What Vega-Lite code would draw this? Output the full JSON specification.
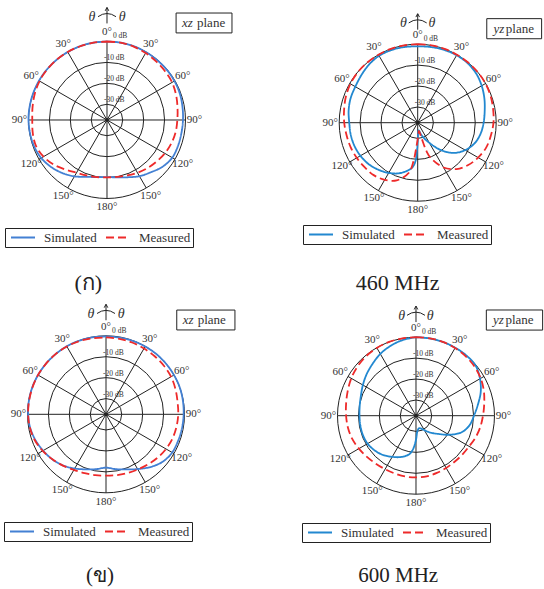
{
"$schema": "https://vega.github.io/schema/vega-lite/v6.json",
"padding": 0,
"spacing": 0,
"config": {"view": {"stroke": null}, "font": "Liberation Serif", "text": {"font": "Liberation Serif"},
 "legend": {"strokeColor": "#222", "fillColor": "white", "padding": 2, "symbolType": "stroke", "symbolSize": 576, "clipHeight": 15, "symbolStrokeWidth": 1.8, "symbolOffset": 3, "labelFont": "Liberation Serif", "labelFontSize": 13, "labelColor": "#333", "labelOffset": 8, "columnPadding": 5}},
"datasets": {
 "rings": [{"db": 0}, {"db": -10}, {"db": -20}, {"db": -30}],
 "spokes": [{"a": 0}, {"a": 30}, {"a": 60}, {"a": 90}, {"a": 120}, {"a": 150}, {"a": 180}, {"a": 210}, {"a": 240}, {"a": 270}, {"a": 300}, {"a": 330}],
 "deg": [{"a": 0, "t": "0°"}, {"a": 30, "t": "30°"}, {"a": 60, "t": "60°"}, {"a": 90, "t": "90°"}, {"a": 120, "t": "120°"}, {"a": 150, "t": "150°"}, {"a": 180, "t": "180°"}, {"a": 210, "t": "150°"}, {"a": 240, "t": "120°"}, {"a": 270, "t": "90°"}, {"a": 300, "t": "60°"}, {"a": 330, "t": "30°"}],
 "dbl": [{"db": 0, "t": "0 dB"}, {"db": -10, "t": "-10 dB"}, {"db": -20, "t": "-20 dB"}, {"db": -30, "t": "-30 dB"}],
 "theta": [{"t": "θ", "side": -1}, {"t": "θ", "side": 1}],
 "tl": [
  {"a": 0, "Simulated": 0, "Measured": 0}, {"a": 10, "Simulated": 0, "Measured": 0}, {"a": 20, "Simulated": 0, "Measured": -0.2},
  {"a": 30, "Simulated": -0.1, "Measured": -0.6}, {"a": 40, "Simulated": -0.2, "Measured": -1.0}, {"a": 50, "Simulated": -0.2, "Measured": -1.3},
  {"a": 60, "Simulated": -0.3, "Measured": -1.6}, {"a": 70, "Simulated": -0.5, "Measured": -2.4}, {"a": 80, "Simulated": -0.9, "Measured": -3.3},
  {"a": 90, "Simulated": -1.2, "Measured": -3.9}, {"a": 100, "Simulated": -1.4, "Measured": -4.2}, {"a": 110, "Simulated": -1.4, "Measured": -4.8},
  {"a": 120, "Simulated": -1.5, "Measured": -5.6}, {"a": 130, "Simulated": -2.8, "Measured": -6.6}, {"a": 140, "Simulated": -4.9, "Measured": -7.5},
  {"a": 150, "Simulated": -6.5, "Measured": -8.4}, {"a": 160, "Simulated": -8.4, "Measured": -9.3}, {"a": 170, "Simulated": -9.7, "Measured": -9.9},
  {"a": 180, "Simulated": -10.2, "Measured": -10.1}, {"a": 190, "Simulated": -9.8, "Measured": -9.8}, {"a": 200, "Simulated": -8.6, "Measured": -9.3},
  {"a": 210, "Simulated": -6.4, "Measured": -8.4}, {"a": 220, "Simulated": -4.4, "Measured": -6.6}, {"a": 230, "Simulated": -2.6, "Measured": -4.3},
  {"a": 240, "Simulated": -1.2, "Measured": -2.5}, {"a": 250, "Simulated": -0.5, "Measured": -1.4}, {"a": 260, "Simulated": -0.2, "Measured": -1.5},
  {"a": 270, "Simulated": 0, "Measured": -1.8}, {"a": 280, "Simulated": 0, "Measured": -1.4}, {"a": 290, "Simulated": 0, "Measured": -0.8},
  {"a": 300, "Simulated": 0, "Measured": -0.3}, {"a": 310, "Simulated": 0, "Measured": -0.1}, {"a": 320, "Simulated": 0, "Measured": 0},
  {"a": 330, "Simulated": 0, "Measured": 0}, {"a": 340, "Simulated": 0, "Measured": 0}, {"a": 350, "Simulated": 0, "Measured": 0},
  {"a": 360, "Simulated": 0, "Measured": 0}],
 "tr": [
  {"a": 0, "Simulated": -1.0, "Measured": 0}, {"a": 10, "Simulated": -0.8, "Measured": 0}, {"a": 20, "Simulated": -0.5, "Measured": 0},
  {"a": 30, "Simulated": -0.3, "Measured": 0}, {"a": 40, "Simulated": -0.4, "Measured": 0}, {"a": 50, "Simulated": -1.0, "Measured": 0},
  {"a": 60, "Simulated": -2.2, "Measured": -0.1}, {"a": 70, "Simulated": -3.6, "Measured": -0.4}, {"a": 80, "Simulated": -5.0, "Measured": -0.9},
  {"a": 90, "Simulated": -6.0, "Measured": -1.3}, {"a": 100, "Simulated": -7.0, "Measured": -2.0}, {"a": 110, "Simulated": -8.6, "Measured": -2.7},
  {"a": 120, "Simulated": -11.3, "Measured": -4.2}, {"a": 130, "Simulated": -15.0, "Measured": -6.0}, {"a": 140, "Simulated": -20.5, "Measured": -8.6},
  {"a": 150, "Simulated": -26.4, "Measured": -12.8}, {"a": 160, "Simulated": -30.3, "Measured": -19.8}, {"a": 163, "Measured": -23.5},
  {"a": 166, "Simulated": -32.3, "Measured": -30.0}, {"a": 172, "Simulated": -33.8, "Measured": -33.5}, {"a": 176, "Simulated": -33.5},
  {"a": 178, "Measured": -31.0}, {"a": 179, "Simulated": -30.5}, {"a": 181, "Simulated": -25.5},
  {"a": 183, "Simulated": -19.5, "Measured": -26.0}, {"a": 186, "Simulated": -16.5, "Measured": -19.5}, {"a": 190, "Simulated": -14.7, "Measured": -13.2},
  {"a": 200, "Simulated": -11.8, "Measured": -8.2}, {"a": 210, "Simulated": -9.8, "Measured": -6.0}, {"a": 220, "Simulated": -8.2, "Measured": -4.8},
  {"a": 230, "Simulated": -6.8, "Measured": -4.4}, {"a": 240, "Simulated": -5.9, "Measured": -3.9}, {"a": 250, "Simulated": -5.3, "Measured": -3.4},
  {"a": 260, "Simulated": -5.0, "Measured": -3.0}, {"a": 270, "Simulated": -4.8, "Measured": -2.4}, {"a": 280, "Simulated": -4.0, "Measured": -1.8},
  {"a": 290, "Simulated": -3.4, "Measured": -1.0}, {"a": 300, "Simulated": -3.1, "Measured": -0.4}, {"a": 310, "Simulated": -2.3, "Measured": -0.1},
  {"a": 320, "Simulated": -1.3, "Measured": 0}, {"a": 330, "Simulated": -0.6, "Measured": 0}, {"a": 340, "Simulated": -0.6, "Measured": 0},
  {"a": 350, "Simulated": -0.8, "Measured": 0}, {"a": 360, "Simulated": -1.0, "Measured": 0}],
 "bl": [
  {"a": 0, "Simulated": -0.3, "Measured": -0.8}, {"a": 10, "Simulated": -0.3, "Measured": -0.9}, {"a": 20, "Simulated": -0.2, "Measured": -1.0},
  {"a": 30, "Simulated": -0.1, "Measured": -1.2}, {"a": 40, "Simulated": 0, "Measured": -1.3}, {"a": 50, "Simulated": 0, "Measured": -1.4},
  {"a": 60, "Simulated": 0, "Measured": -1.6}, {"a": 70, "Simulated": 0, "Measured": -2.2}, {"a": 80, "Simulated": -0.2, "Measured": -2.8},
  {"a": 90, "Simulated": -0.4, "Measured": -3.0}, {"a": 100, "Simulated": -0.6, "Measured": -3.3}, {"a": 110, "Simulated": -0.8, "Measured": -3.7},
  {"a": 120, "Simulated": -1.0, "Measured": -4.4}, {"a": 130, "Simulated": -2.2, "Measured": -5.3}, {"a": 140, "Simulated": -4.6, "Measured": -6.3},
  {"a": 150, "Simulated": -7.3, "Measured": -7.1}, {"a": 160, "Simulated": -9.5, "Measured": -7.6}, {"a": 170, "Simulated": -10.9, "Measured": -8.0},
  {"a": 180, "Simulated": -12.0, "Measured": -8.2}, {"a": 190, "Simulated": -10.9, "Measured": -8.0}, {"a": 200, "Simulated": -9.5, "Measured": -7.6},
  {"a": 210, "Simulated": -7.6, "Measured": -6.8}, {"a": 220, "Simulated": -5.6, "Measured": -5.5}, {"a": 230, "Simulated": -4.0, "Measured": -4.1},
  {"a": 240, "Simulated": -2.8, "Measured": -2.6}, {"a": 250, "Simulated": -1.6, "Measured": -1.3}, {"a": 260, "Simulated": -0.7, "Measured": -0.6},
  {"a": 270, "Simulated": -0.3, "Measured": -0.3}, {"a": 280, "Simulated": -0.1, "Measured": -0.2}, {"a": 290, "Simulated": 0, "Measured": -0.1},
  {"a": 300, "Simulated": 0, "Measured": 0}, {"a": 310, "Simulated": 0, "Measured": 0}, {"a": 320, "Simulated": 0, "Measured": 0},
  {"a": 330, "Simulated": 0, "Measured": -0.1}, {"a": 340, "Simulated": -0.1, "Measured": -0.3}, {"a": 350, "Simulated": -0.2, "Measured": -0.6},
  {"a": 360, "Simulated": -0.3, "Measured": -0.8}],
 "br": [
  {"a": 0, "Simulated": 0, "Measured": 0}, {"a": 10, "Simulated": 0, "Measured": 0}, {"a": 20, "Simulated": 0, "Measured": 0},
  {"a": 30, "Simulated": 0, "Measured": -0.2}, {"a": 40, "Simulated": 0, "Measured": -0.5}, {"a": 50, "Simulated": -0.3, "Measured": -1.0},
  {"a": 60, "Simulated": -2.2, "Measured": -1.8}, {"a": 70, "Simulated": -4.6, "Measured": -3.0}, {"a": 80, "Simulated": -7.5, "Measured": -4.4},
  {"a": 90, "Simulated": -9.8, "Measured": -5.5}, {"a": 100, "Simulated": -11.5, "Measured": -6.3}, {"a": 110, "Simulated": -14.3, "Measured": -7.2},
  {"a": 120, "Simulated": -19.3, "Measured": -8.2}, {"a": 130, "Simulated": -24.0, "Measured": -8.6}, {"a": 140, "Simulated": -27.0, "Measured": -8.8},
  {"a": 150, "Simulated": -29.5, "Measured": -8.7}, {"a": 160, "Simulated": -31.0, "Measured": -8.4}, {"a": 167, "Simulated": -31.3},
  {"a": 170, "Measured": -8.1}, {"a": 175, "Simulated": -30.0}, {"a": 180, "Simulated": -26.0, "Measured": -8.0},
  {"a": 185, "Simulated": -21.5}, {"a": 190, "Simulated": -18.8, "Measured": -8.0}, {"a": 200, "Simulated": -16.5, "Measured": -8.1},
  {"a": 210, "Simulated": -14.8, "Measured": -8.0}, {"a": 220, "Simulated": -13.0, "Measured": -7.6}, {"a": 230, "Simulated": -11.7, "Measured": -6.9},
  {"a": 240, "Simulated": -10.8, "Measured": -6.0}, {"a": 250, "Simulated": -10.5, "Measured": -5.1}, {"a": 260, "Simulated": -10.5, "Measured": -4.5},
  {"a": 270, "Simulated": -10.5, "Measured": -4.1}, {"a": 280, "Simulated": -10.2, "Measured": -3.6}, {"a": 290, "Simulated": -9.5, "Measured": -2.8},
  {"a": 300, "Simulated": -8.2, "Measured": -1.8}, {"a": 310, "Simulated": -6.7, "Measured": -1.0}, {"a": 320, "Simulated": -5.2, "Measured": -0.4},
  {"a": 330, "Simulated": -3.4, "Measured": -0.1}, {"a": 340, "Simulated": -2.0, "Measured": 0}, {"a": 350, "Simulated": -0.8, "Measured": 0},
  {"a": 360, "Simulated": 0, "Measured": 0}]
},
"resolve": {"scale": {"color": "independent", "strokeDash": "independent"}, "legend": {"color": "independent", "strokeDash": "independent"}},
"vconcat": [
 {"hconcat": [
  {"width": 272, "height": 295,
   "encoding": {"x": {"field": "x", "type": "quantitative", "axis": null, "scale": {"domain": [-51.11, 78.82], "nice": false, "zero": false}},
                "y": {"field": "y", "type": "quantitative", "axis": null, "scale": {"domain": [-83.6, 57.32], "nice": false, "zero": false}}},
   "layer": [
    {"data": {"name": "rings"}, "transform": [{"calculate": "datum.db + 37.5", "as": "r"}, {"calculate": "0", "as": "x"}, {"calculate": "0", "as": "y"}],
     "mark": {"type": "point", "shape": "circle", "filled": false, "stroke": "#222", "strokeWidth": 1, "opacity": 1},
     "encoding": {"size": {"field": "r", "type": "quantitative", "legend": null, "scale": {"type": "pow", "exponent": 2, "domain": [0, 37.5], "range": [0, 24649], "zero": true, "nice": false}}}},
    {"data": {"name": "spokes"}, "transform": [{"calculate": "37.5*sin(datum.a*PI/180)", "as": "x2"}, {"calculate": "37.5*cos(datum.a*PI/180)", "as": "y2"}, {"calculate": "0", "as": "x"}, {"calculate": "0", "as": "y"}],
     "mark": {"type": "rule", "stroke": "#222", "strokeWidth": 1}, "encoding": {"x2": {"field": "x2"}, "y2": {"field": "y2"}}},
    {"data": {"values": [{"p": 0}]}, "transform": [{"calculate": "0", "as": "x"}, {"calculate": "0", "as": "y"}],
     "mark": {"type": "point", "filled": true, "color": "#222", "size": 14, "opacity": 1}},
    {"data": {"name": "deg"}, "transform": [{"calculate": "41.8*sin(datum.a*PI/180)", "as": "x"}, {"calculate": "41.8*cos(datum.a*PI/180)", "as": "y"}],
     "mark": {"type": "text", "font": "Liberation Serif", "fontSize": 11, "color": "#333"}, "encoding": {"text": {"field": "t"}}},
    {"data": {"name": "dbl"}, "transform": [{"filter": "datum.db < 0"}, {"calculate": "0", "as": "x"}, {"calculate": "datum.db + 37.5", "as": "y"}],
     "mark": {"type": "text", "font": "Liberation Serif", "fontSize": 7.5, "color": "#333", "align": "left", "baseline": "bottom", "dx": -3}, "encoding": {"text": {"field": "t"}}},
    {"data": {"name": "dbl"}, "transform": [{"filter": "datum.db == 0"}, {"calculate": "0", "as": "x"}, {"calculate": "datum.db + 37.5", "as": "y"}],
     "mark": {"type": "text", "font": "Liberation Serif", "fontSize": 7.5, "color": "#333", "align": "left", "baseline": "bottom", "dx": 6, "dy": -1}, "encoding": {"text": {"field": "t"}}},
    {"data": {"name": "tl"}, "transform": [{"fold": ["Simulated", "Measured"], "as": ["s", "db"]}, {"filter": "isValid(datum.db)"}, {"calculate": "(datum.db+37.5)*sin(datum.a*PI/180)", "as": "x"}, {"calculate": "(datum.db+37.5)*cos(datum.a*PI/180)", "as": "y"}],
     "mark": {"type": "line", "interpolate": "catmull-rom", "strokeWidth": 1.8},
     "encoding": {
      "color": {"field": "s", "type": "nominal", "scale": {"domain": ["Simulated", "Measured"], "range": ["#4380d3", "#ee2a2a"]}, "legend": {"orient": "none", "legendX": 5, "legendY": 228, "direction": "horizontal", "title": null}},
      "strokeDash": {"field": "s", "type": "nominal", "scale": {"domain": ["Simulated", "Measured"], "range": [[1, 0], [8, 4]]}, "legend": {"orient": "none", "legendX": 5, "legendY": 228, "direction": "horizontal", "title": null}},
      "order": {"field": "a", "type": "quantitative"}}},
    {"data": {"values": [{"p": 0}]}, "transform": [{"calculate": "33.0", "as": "x"}, {"calculate": "59.7", "as": "x2"}, {"calculate": "51.1", "as": "y"}, {"calculate": "41.6", "as": "y2"}],
     "mark": {"type": "rect", "fill": "white", "stroke": "#222", "strokeWidth": 1}, "encoding": {"x2": {"field": "x2"}, "y2": {"field": "y2"}}},
    {"data": {"values": [{"t": "xz"}]}, "transform": [{"calculate": "35.8", "as": "x"}, {"calculate": "46.3", "as": "y"}],
     "mark": {"type": "text", "font": "Liberation Serif", "fontSize": 13, "fontStyle": "italic", "align": "left", "color": "#333"}, "encoding": {"text": {"field": "t"}}},
    {"data": {"values": [{"t": "plane"}]}, "transform": [{"calculate": "43.0", "as": "x"}, {"calculate": "46.3", "as": "y"}],
     "mark": {"type": "text", "font": "Liberation Serif", "fontSize": 13, "align": "left", "color": "#333"}, "encoding": {"text": {"field": "t"}}},
    {"data": {"name": "theta"}, "transform": [{"calculate": "datum.side*7.2", "as": "x"}, {"calculate": "49.3", "as": "y"}],
     "mark": {"type": "text", "font": "Liberation Serif", "fontSize": 14, "fontStyle": "italic", "color": "#333"}, "encoding": {"text": {"field": "t"}}},
    {"data": {"values": [{"p": 0}]}, "transform": [{"calculate": "0", "as": "x"}, {"calculate": "50.0", "as": "y"}],
     "mark": {"type": "point", "shape": "M0,0.9L0,-0.85M-0.2,-0.5L0,-0.88L0.2,-0.5M-1,0.15Q0,-0.55 1,0.15", "filled": false, "stroke": "#222", "strokeWidth": 1, "size": 324, "opacity": 1}},
    {"data": {"values": [{"t": "(ก)"}]}, "transform": [{"calculate": "-8.9", "as": "x"}, {"calculate": "-77.9", "as": "y"}],
     "mark": {"type": "text", "font": "Liberation Serif", "fontSize": 22, "color": "#222"}, "encoding": {"text": {"field": "t"}}}
   ]},
  {"width": 272, "height": 295,
   "encoding": {"x": {"field": "x", "type": "quantitative", "axis": null, "scale": {"domain": [-69.6, 60.34], "nice": false, "zero": false}},
                "y": {"field": "y", "type": "quantitative", "axis": null, "scale": {"domain": [-82.31, 58.61], "nice": false, "zero": false}}},
   "layer": [
    {"data": {"name": "rings"}, "transform": [{"calculate": "datum.db + 37.5", "as": "r"}, {"calculate": "0", "as": "x"}, {"calculate": "0", "as": "y"}],
     "mark": {"type": "point", "shape": "circle", "filled": false, "stroke": "#222", "strokeWidth": 1, "opacity": 1},
     "encoding": {"size": {"field": "r", "type": "quantitative", "legend": null, "scale": {"type": "pow", "exponent": 2, "domain": [0, 37.5], "range": [0, 24649], "zero": true, "nice": false}}}},
    {"data": {"name": "spokes"}, "transform": [{"calculate": "37.5*sin(datum.a*PI/180)", "as": "x2"}, {"calculate": "37.5*cos(datum.a*PI/180)", "as": "y2"}, {"calculate": "0", "as": "x"}, {"calculate": "0", "as": "y"}],
     "mark": {"type": "rule", "stroke": "#222", "strokeWidth": 1}, "encoding": {"x2": {"field": "x2"}, "y2": {"field": "y2"}}},
    {"data": {"values": [{"p": 0}]}, "transform": [{"calculate": "0", "as": "x"}, {"calculate": "0", "as": "y"}],
     "mark": {"type": "point", "filled": true, "color": "#222", "size": 14, "opacity": 1}},
    {"data": {"name": "deg"}, "transform": [{"calculate": "41.8*sin(datum.a*PI/180)", "as": "x"}, {"calculate": "41.8*cos(datum.a*PI/180)", "as": "y"}],
     "mark": {"type": "text", "font": "Liberation Serif", "fontSize": 11, "color": "#333"}, "encoding": {"text": {"field": "t"}}},
    {"data": {"name": "dbl"}, "transform": [{"filter": "datum.db < 0"}, {"calculate": "0", "as": "x"}, {"calculate": "datum.db + 37.5", "as": "y"}],
     "mark": {"type": "text", "font": "Liberation Serif", "fontSize": 7.5, "color": "#333", "align": "left", "baseline": "bottom", "dx": -3}, "encoding": {"text": {"field": "t"}}},
    {"data": {"name": "dbl"}, "transform": [{"filter": "datum.db == 0"}, {"calculate": "0", "as": "x"}, {"calculate": "datum.db + 37.5", "as": "y"}],
     "mark": {"type": "text", "font": "Liberation Serif", "fontSize": 7.5, "color": "#333", "align": "left", "baseline": "bottom", "dx": 6, "dy": -1}, "encoding": {"text": {"field": "t"}}},
    {"data": {"name": "tr"}, "transform": [{"fold": ["Simulated", "Measured"], "as": ["s", "db"]}, {"filter": "isValid(datum.db)"}, {"calculate": "(datum.db+37.5)*sin(datum.a*PI/180)", "as": "x"}, {"calculate": "(datum.db+37.5)*cos(datum.a*PI/180)", "as": "y"}],
     "mark": {"type": "line", "interpolate": "catmull-rom", "strokeWidth": 1.8},
     "encoding": {
      "color": {"field": "s", "type": "nominal", "scale": {"domain": ["Simulated", "Measured"], "range": ["#2288d0", "#ee2a2a"]}, "legend": {"orient": "none", "legendX": 31, "legendY": 225, "direction": "horizontal", "title": null}},
      "strokeDash": {"field": "s", "type": "nominal", "scale": {"domain": ["Simulated", "Measured"], "range": [[1, 0], [8, 4]]}, "legend": {"orient": "none", "legendX": 31, "legendY": 225, "direction": "horizontal", "title": null}},
      "order": {"field": "a", "type": "quantitative"}}},
    {"data": {"values": [{"p": 0}]}, "transform": [{"calculate": "33.0", "as": "x"}, {"calculate": "59.2", "as": "x2"}, {"calculate": "49.7", "as": "y"}, {"calculate": "40.1", "as": "y2"}],
     "mark": {"type": "rect", "fill": "white", "stroke": "#222", "strokeWidth": 1}, "encoding": {"x2": {"field": "x2"}, "y2": {"field": "y2"}}},
    {"data": {"values": [{"t": "yz"}]}, "transform": [{"calculate": "36.2", "as": "x"}, {"calculate": "44.9", "as": "y"}],
     "mark": {"type": "text", "font": "Liberation Serif", "fontSize": 13, "fontStyle": "italic", "align": "left", "color": "#333"}, "encoding": {"text": {"field": "t"}}},
    {"data": {"values": [{"t": "plane"}]}, "transform": [{"calculate": "42.1", "as": "x"}, {"calculate": "44.9", "as": "y"}],
     "mark": {"type": "text", "font": "Liberation Serif", "fontSize": 13, "align": "left", "color": "#333"}, "encoding": {"text": {"field": "t"}}},
    {"data": {"name": "theta"}, "transform": [{"calculate": "datum.side*6.8", "as": "x"}, {"calculate": "47.5", "as": "y"}],
     "mark": {"type": "text", "font": "Liberation Serif", "fontSize": 14, "fontStyle": "italic", "color": "#333"}, "encoding": {"text": {"field": "t"}}},
    {"data": {"values": [{"p": 0}]}, "transform": [{"calculate": "0", "as": "x"}, {"calculate": "48.3", "as": "y"}],
     "mark": {"type": "point", "shape": "M0,0.9L0,-0.85M-0.2,-0.5L0,-0.88L0.2,-0.5M-1,0.15Q0,-0.55 1,0.15", "filled": false, "stroke": "#222", "strokeWidth": 1, "size": 324, "opacity": 1}},
    {"data": {"values": [{"t": "460 MHz"}]}, "transform": [{"calculate": "-9.6", "as": "x"}, {"calculate": "-76.7", "as": "y"}],
     "mark": {"type": "text", "font": "Liberation Serif", "fontSize": 22, "color": "#222"}, "encoding": {"text": {"field": "t"}}}
   ]}
 ], "spacing": 0,
 "resolve": {"scale": {"color": "independent", "strokeDash": "independent"}, "legend": {"color": "independent", "strokeDash": "independent"}}},
 {"hconcat": [
  {"width": 272, "height": 294,
   "encoding": {"x": {"field": "x", "type": "quantitative", "axis": null, "scale": {"domain": [-50.64, 79.3], "nice": false, "zero": false}},
                "y": {"field": "y", "type": "quantitative", "axis": null, "scale": {"domain": [-83.45, 56.99], "nice": false, "zero": false}}},
   "layer": [
    {"data": {"name": "rings"}, "transform": [{"calculate": "datum.db + 37.5", "as": "r"}, {"calculate": "0", "as": "x"}, {"calculate": "0", "as": "y"}],
     "mark": {"type": "point", "shape": "circle", "filled": false, "stroke": "#222", "strokeWidth": 1, "opacity": 1},
     "encoding": {"size": {"field": "r", "type": "quantitative", "legend": null, "scale": {"type": "pow", "exponent": 2, "domain": [0, 37.5], "range": [0, 24649], "zero": true, "nice": false}}}},
    {"data": {"name": "spokes"}, "transform": [{"calculate": "37.5*sin(datum.a*PI/180)", "as": "x2"}, {"calculate": "37.5*cos(datum.a*PI/180)", "as": "y2"}, {"calculate": "0", "as": "x"}, {"calculate": "0", "as": "y"}],
     "mark": {"type": "rule", "stroke": "#222", "strokeWidth": 1}, "encoding": {"x2": {"field": "x2"}, "y2": {"field": "y2"}}},
    {"data": {"values": [{"p": 0}]}, "transform": [{"calculate": "0", "as": "x"}, {"calculate": "0", "as": "y"}],
     "mark": {"type": "point", "filled": true, "color": "#222", "size": 14, "opacity": 1}},
    {"data": {"name": "deg"}, "transform": [{"calculate": "41.8*sin(datum.a*PI/180)", "as": "x"}, {"calculate": "41.8*cos(datum.a*PI/180)", "as": "y"}],
     "mark": {"type": "text", "font": "Liberation Serif", "fontSize": 11, "color": "#333"}, "encoding": {"text": {"field": "t"}}},
    {"data": {"name": "dbl"}, "transform": [{"filter": "datum.db < 0"}, {"calculate": "0", "as": "x"}, {"calculate": "datum.db + 37.5", "as": "y"}],
     "mark": {"type": "text", "font": "Liberation Serif", "fontSize": 7.5, "color": "#333", "align": "left", "baseline": "bottom", "dx": -3}, "encoding": {"text": {"field": "t"}}},
    {"data": {"name": "dbl"}, "transform": [{"filter": "datum.db == 0"}, {"calculate": "0", "as": "x"}, {"calculate": "datum.db + 37.5", "as": "y"}],
     "mark": {"type": "text", "font": "Liberation Serif", "fontSize": 7.5, "color": "#333", "align": "left", "baseline": "bottom", "dx": 6, "dy": -1}, "encoding": {"text": {"field": "t"}}},
    {"data": {"name": "bl"}, "transform": [{"fold": ["Simulated", "Measured"], "as": ["s", "db"]}, {"filter": "isValid(datum.db)"}, {"calculate": "(datum.db+37.5)*sin(datum.a*PI/180)", "as": "x"}, {"calculate": "(datum.db+37.5)*cos(datum.a*PI/180)", "as": "y"}],
     "mark": {"type": "line", "interpolate": "catmull-rom", "strokeWidth": 1.8},
     "encoding": {
      "color": {"field": "s", "type": "nominal", "scale": {"domain": ["Simulated", "Measured"], "range": ["#4380d3", "#ee2a2a"]}, "legend": {"orient": "none", "legendX": 4, "legendY": 227, "direction": "horizontal", "title": null}},
      "strokeDash": {"field": "s", "type": "nominal", "scale": {"domain": ["Simulated", "Measured"], "range": [[1, 0], [8, 4]]}, "legend": {"orient": "none", "legendX": 4, "legendY": 227, "direction": "horizontal", "title": null}},
      "order": {"field": "a", "type": "quantitative"}}},
    {"data": {"values": [{"p": 0}]}, "transform": [{"calculate": "33.8", "as": "x"}, {"calculate": "61.6", "as": "x2"}, {"calculate": "49.8", "as": "y"}, {"calculate": "40.3", "as": "y2"}],
     "mark": {"type": "rect", "fill": "white", "stroke": "#222", "strokeWidth": 1}, "encoding": {"x2": {"field": "x2"}, "y2": {"field": "y2"}}},
    {"data": {"values": [{"t": "xz"}]}, "transform": [{"calculate": "36.7", "as": "x"}, {"calculate": "45.05", "as": "y"}],
     "mark": {"type": "text", "font": "Liberation Serif", "fontSize": 13, "fontStyle": "italic", "align": "left", "color": "#333"}, "encoding": {"text": {"field": "t"}}},
    {"data": {"values": [{"t": "plane"}]}, "transform": [{"calculate": "43.8", "as": "x"}, {"calculate": "45.05", "as": "y"}],
     "mark": {"type": "text", "font": "Liberation Serif", "fontSize": 13, "align": "left", "color": "#333"}, "encoding": {"text": {"field": "t"}}},
    {"data": {"name": "theta"}, "transform": [{"calculate": "datum.side*7.2", "as": "x"}, {"calculate": "48.0", "as": "y"}],
     "mark": {"type": "text", "font": "Liberation Serif", "fontSize": 14, "fontStyle": "italic", "color": "#333"}, "encoding": {"text": {"field": "t"}}},
    {"data": {"values": [{"p": 0}]}, "transform": [{"calculate": "0", "as": "x"}, {"calculate": "48.8", "as": "y"}],
     "mark": {"type": "point", "shape": "M0,0.9L0,-0.85M-0.2,-0.5L0,-0.88L0.2,-0.5M-1,0.15Q0,-0.55 1,0.15", "filled": false, "stroke": "#222", "strokeWidth": 1, "size": 324, "opacity": 1}},
    {"data": {"values": [{"t": "(ข)"}]}, "transform": [{"calculate": "-2.9", "as": "x"}, {"calculate": "-77.4", "as": "y"}],
     "mark": {"type": "text", "font": "Liberation Serif", "fontSize": 21, "color": "#222"}, "encoding": {"text": {"field": "t"}}}
   ]},
  {"width": 272, "height": 294,
   "encoding": {"x": {"field": "x", "type": "quantitative", "axis": null, "scale": {"domain": [-68.79, 61.15], "nice": false, "zero": false}},
                "y": {"field": "y", "type": "quantitative", "axis": null, "scale": {"domain": [-82.79, 57.66], "nice": false, "zero": false}}},
   "layer": [
    {"data": {"name": "rings"}, "transform": [{"calculate": "datum.db + 37.5", "as": "r"}, {"calculate": "0", "as": "x"}, {"calculate": "0", "as": "y"}],
     "mark": {"type": "point", "shape": "circle", "filled": false, "stroke": "#222", "strokeWidth": 1, "opacity": 1},
     "encoding": {"size": {"field": "r", "type": "quantitative", "legend": null, "scale": {"type": "pow", "exponent": 2, "domain": [0, 37.5], "range": [0, 24649], "zero": true, "nice": false}}}},
    {"data": {"name": "spokes"}, "transform": [{"calculate": "37.5*sin(datum.a*PI/180)", "as": "x2"}, {"calculate": "37.5*cos(datum.a*PI/180)", "as": "y2"}, {"calculate": "0", "as": "x"}, {"calculate": "0", "as": "y"}],
     "mark": {"type": "rule", "stroke": "#222", "strokeWidth": 1}, "encoding": {"x2": {"field": "x2"}, "y2": {"field": "y2"}}},
    {"data": {"values": [{"p": 0}]}, "transform": [{"calculate": "0", "as": "x"}, {"calculate": "0", "as": "y"}],
     "mark": {"type": "point", "filled": true, "color": "#222", "size": 14, "opacity": 1}},
    {"data": {"name": "deg"}, "transform": [{"calculate": "41.8*sin(datum.a*PI/180)", "as": "x"}, {"calculate": "41.8*cos(datum.a*PI/180)", "as": "y"}],
     "mark": {"type": "text", "font": "Liberation Serif", "fontSize": 11, "color": "#333"}, "encoding": {"text": {"field": "t"}}},
    {"data": {"name": "dbl"}, "transform": [{"filter": "datum.db < 0"}, {"calculate": "0", "as": "x"}, {"calculate": "datum.db + 37.5", "as": "y"}],
     "mark": {"type": "text", "font": "Liberation Serif", "fontSize": 7.5, "color": "#333", "align": "left", "baseline": "bottom", "dx": -3}, "encoding": {"text": {"field": "t"}}},
    {"data": {"name": "dbl"}, "transform": [{"filter": "datum.db == 0"}, {"calculate": "0", "as": "x"}, {"calculate": "datum.db + 37.5", "as": "y"}],
     "mark": {"type": "text", "font": "Liberation Serif", "fontSize": 7.5, "color": "#333", "align": "left", "baseline": "bottom", "dx": 6, "dy": -1}, "encoding": {"text": {"field": "t"}}},
    {"data": {"name": "br"}, "transform": [{"fold": ["Simulated", "Measured"], "as": ["s", "db"]}, {"filter": "isValid(datum.db)"}, {"calculate": "(datum.db+37.5)*sin(datum.a*PI/180)", "as": "x"}, {"calculate": "(datum.db+37.5)*cos(datum.a*PI/180)", "as": "y"}],
     "mark": {"type": "line", "interpolate": "catmull-rom", "strokeWidth": 1.8},
     "encoding": {
      "color": {"field": "s", "type": "nominal", "scale": {"domain": ["Simulated", "Measured"], "range": ["#2288d0", "#ee2a2a"]}, "legend": {"orient": "none", "legendX": 30, "legendY": 228, "direction": "horizontal", "title": null}},
      "strokeDash": {"field": "s", "type": "nominal", "scale": {"domain": ["Simulated", "Measured"], "range": [[1, 0], [8, 4]]}, "legend": {"orient": "none", "legendX": 30, "legendY": 228, "direction": "horizontal", "title": null}},
      "order": {"field": "a", "type": "quantitative"}}},
    {"data": {"values": [{"p": 0}]}, "transform": [{"calculate": "33.6", "as": "x"}, {"calculate": "60.5", "as": "x2"}, {"calculate": "50.5", "as": "y"}, {"calculate": "40.9", "as": "y2"}],
     "mark": {"type": "rect", "fill": "white", "stroke": "#222", "strokeWidth": 1}, "encoding": {"x2": {"field": "x2"}, "y2": {"field": "y2"}}},
    {"data": {"values": [{"t": "yz"}]}, "transform": [{"calculate": "36.8", "as": "x"}, {"calculate": "45.7", "as": "y"}],
     "mark": {"type": "text", "font": "Liberation Serif", "fontSize": 13, "fontStyle": "italic", "align": "left", "color": "#333"}, "encoding": {"text": {"field": "t"}}},
    {"data": {"values": [{"t": "plane"}]}, "transform": [{"calculate": "42.7", "as": "x"}, {"calculate": "45.7", "as": "y"}],
     "mark": {"type": "text", "font": "Liberation Serif", "fontSize": 13, "align": "left", "color": "#333"}, "encoding": {"text": {"field": "t"}}},
    {"data": {"name": "theta"}, "transform": [{"calculate": "datum.side*6.8", "as": "x"}, {"calculate": "47.8", "as": "y"}],
     "mark": {"type": "text", "font": "Liberation Serif", "fontSize": 14, "fontStyle": "italic", "color": "#333"}, "encoding": {"text": {"field": "t"}}},
    {"data": {"values": [{"p": 0}]}, "transform": [{"calculate": "0", "as": "x"}, {"calculate": "48.6", "as": "y"}],
     "mark": {"type": "point", "shape": "M0,0.9L0,-0.85M-0.2,-0.5L0,-0.88L0.2,-0.5M-1,0.15Q0,-0.55 1,0.15", "filled": false, "stroke": "#222", "strokeWidth": 1, "size": 324, "opacity": 1}},
    {"data": {"values": [{"t": "600 MHz"}]}, "transform": [{"calculate": "-8.5", "as": "x"}, {"calculate": "-76.7", "as": "y"}],
     "mark": {"type": "text", "font": "Liberation Serif", "fontSize": 21, "color": "#222"}, "encoding": {"text": {"field": "t"}}}
   ]}
 ], "spacing": 0,
 "resolve": {"scale": {"color": "independent", "strokeDash": "independent"}, "legend": {"color": "independent", "strokeDash": "independent"}}}
]
}
